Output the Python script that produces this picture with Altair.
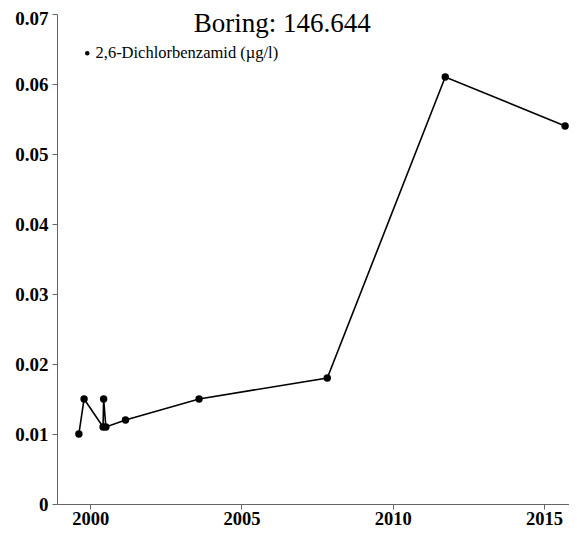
import altair as alt
import pandas as pd

dates = ["1999-08-18", "1999-10-20", "2000-06-05", "2000-06-12", "2000-07-09",
         "2001-03-03", "2003-08-08", "2007-11-03", "2011-09-27", "2015-09-13"]
values = [0.010, 0.015, 0.011, 0.015, 0.011, 0.012, 0.015, 0.018, 0.061, 0.054]
series = "2,6-Dichlorbenzamid (µg/l)"
y_ticks = [0, 0.01, 0.02, 0.03, 0.04, 0.05, 0.06, 0.07]
x_domain = ["1998-11-27", "2015-10-30"]
title_text = "Boring: 146.644"

df = pd.DataFrame({"date": dates, "value": values, "series": [series] * len(dates)})

x = alt.X("date:T",
          scale=alt.Scale(domain=x_domain, nice=False),
          axis=alt.Axis(title=None, format="%Y", tickCount={"interval": "year", "step": 5},
                        labelFont="Liberation Serif", labelFontSize=18.5, labelFontWeight="bold",
                        labelColor="black", domainColor="#666", tickColor="#666", tickSize=5,
                        labelPadding=0, grid=False, labelFlush=False))
y = alt.Y("value:Q",
          scale=alt.Scale(domain=[0, 0.07], nice=False),
          axis=alt.Axis(title=None, values=y_ticks, format="~g",
                        labelFont="Liberation Serif", labelFontSize=19, labelFontWeight="bold",
                        labelColor="black", domainColor="#666", tickColor="#666", tickSize=5,
                        labelPadding=4, grid=False, labelFlush=False,
                        labelOffset=alt.expr("datum.value >= 0.069 ? 4 : 0")))
color = alt.Color("series:N", scale=alt.Scale(range=["black"]),
                  legend=alt.Legend(title=None, orient="none", legendX=22, legendY=31,
                                    labelFont="Liberation Serif", labelFontSize=16.5,
                                    labelColor="black", symbolType="circle", symbolSize=20,
                                    symbolFillColor="black", symbolStrokeWidth=0,
                                    symbolOffset=0, labelOffset=0, padding=0, labelLimit=0))

base = alt.Chart(df)
line = base.mark_line(color="black", strokeWidth=1.6).encode(x=x, y=y)
pts = base.mark_circle(size=55, opacity=1).encode(x=x, y=y, color=color)

chart = alt.layer(line, pts).properties(
    width=512, height=490,
    title=alt.Title(title_text, font="Liberation Serif", fontSize=27, fontWeight="normal",
                    color="black", anchor="start", dx=179, offset=-50,
                    baseline="alphabetic"),
    autosize=alt.AutoSizeParams(type="none"),
    padding={"left": 49, "top": 6, "right": 0, "bottom": 23},
).configure_view(stroke=None)

chart.save("out.html", embed_options={"renderer": "svg", "actions": False})
